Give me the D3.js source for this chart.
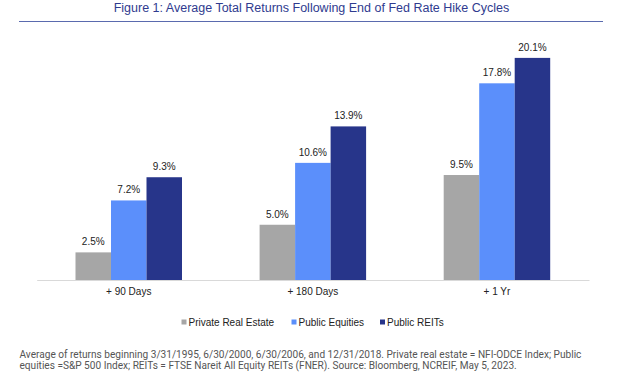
<!DOCTYPE html>
<html><head><meta charset="utf-8">
<script src="https://cdn.jsdelivr.net/npm/d3@7"></script>
<style>body{margin:0;background:#fff}svg{display:block}</style>
</head><body>
<svg id="c" width="624" height="382"></svg>
<script>
const categories = ["+ 90 Days", "+ 180 Days", "+ 1 Yr"];
const seriesNames = ["Private Real Estate", "Public Equities", "Public REITs"];
const privateRealEstate = [2.5, 5.0, 9.5];
const publicEquities = [7.2, 10.6, 17.8];
const publicREITs = [9.3, 13.9, 20.1];
const seriesValues = [privateRealEstate, publicEquities, publicREITs];
const colors = ["#a6a6a6", "#5b8ffb", "#27358a"];
const title = "Figure 1: Average Total Returns Following End of Fed Rate Hike Cycles";
const footnote = [
  "Average of returns beginning 3/31/1995, 6/30/2000, 6/30/2006, and 12/31/2018. Private real estate = NFI-ODCE Index; Public",
  "equities =S&P 500 Index; REITs = FTSE Nareit All Equity REITs (FNER). Source: Bloomberg, NCREIF, May 5, 2023."
];

const svg = d3.select("#c");
const font = "'Liberation Sans', Arial, sans-serif";

// title
svg.append("text").attr("x", 311.5).attr("y", 12).attr("text-anchor", "middle")
  .attr("font-family", font).attr("font-size", 12.5).attr("fill", "#2f3b8f").text(title);
svg.append("line").attr("x1", 19).attr("x2", 603).attr("y1", 21.5).attr("y2", 21.5)
  .attr("stroke", "#5a6aae").attr("stroke-width", 1.2);

const x0 = d3.scaleBand().domain(categories).range([36.7, 589]).padding(0);
const groupW = 106.5;
const x1 = d3.scaleBand().domain(seriesNames).range([0, groupW]).padding(0);
const y = d3.scaleLinear().domain([0, 22]).range([280, 280 - 22 * 11.05]);

const g = svg.append("g");
categories.forEach((cat, ci) => {
  const gx = x0(cat) + (x0.bandwidth() - groupW) / 2;
  seriesNames.forEach((s, si) => {
    const v = seriesValues[si][ci];
    g.append("rect").attr("x", gx + x1(s)).attr("y", y(v))
      .attr("width", x1.bandwidth()).attr("height", y(0) - y(v))
      .attr("fill", colors[si]);
    g.append("text").attr("x", gx + x1(s) + x1.bandwidth() / 2).attr("y", y(v) - 7)
      .attr("text-anchor", "middle").attr("font-family", font).attr("font-size", 10)
      .attr("fill", "#222").text(v.toFixed(1) + "%");
  });
});

// x axis
const xAxis = d3.axisBottom(x0).tickSize(0).tickPadding(8);
const ax = svg.append("g").attr("transform", "translate(0,280)").call(xAxis);
ax.select(".domain").attr("stroke", "#d9d9d9").attr("stroke-width", 1.2);
ax.selectAll("text").attr("font-family", font).attr("font-size", 10).attr("fill", "#222");

// legend
const legendX = [181.5, 291.5, 380];
seriesNames.forEach((s, i) => {
  svg.append("rect").attr("x", legendX[i]).attr("y", 319.5).attr("width", 5).attr("height", 5).attr("fill", colors[i]);
  svg.append("text").attr("x", legendX[i] + 7).attr("y", 325.5).attr("font-family", font)
    .attr("font-size", 10).attr("fill", "#222").text(s);
});

// footnote
footnote.forEach((t, i) => {
  svg.append("text").attr("x", 19.5).attr("y", 357.5 + i * 11).attr("font-family", "Roboto, sans-serif")
    .attr("font-size", 10.1).attr("fill", "#555").text(t);
});
</script>
</body></html>
